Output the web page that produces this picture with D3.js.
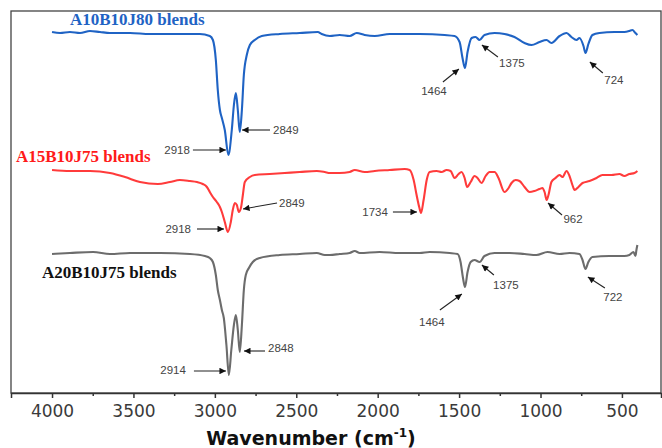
<!DOCTYPE html>
<html>
<head>
<meta charset="utf-8">
<script src="https://cdn.jsdelivr.net/npm/d3@7/dist/d3.min.js"></script>
<style>
  html, body { margin: 0; padding: 0; background: #fff; }
  svg { display: block; }
</style>
</head>
<body>
<svg id="chart" width="662" height="448"></svg>
<script>
// ---------- DATA ----------
const xTicks = [4000, 3500, 3000, 2500, 2000, 1500, 1000, 500];
const xMinorTicks = [3750, 3250, 2750, 2250, 1750, 1250, 750];
const seriesNames = ["A10B10J80 blends", "A15B10J75 blends", "A20B10J75 blends"];

// [wavenumber (cm-1), transmittance (a.u.)]
const a10b10j80 = [
  [4000,36.1],[3951,36.0],[3890,36.1],[3828,36.0],[3767,36.2],[3706,36.1],[3644,36.0],
  [3521,36.0],[3399,35.9],[3276,35.9],[3153,35.9],[3092,35.9],[3031,35.7],[3012,35.3],
  [2994,33.3],[2982,30.3],[2969,28.3],[2957,27.5],[2939,26.3],[2917,23.8],[2896,26.3],
  [2883,28.8],[2871,30.0],[2859,28.3],[2847,26.1],[2834,28.3],[2822,31.8],[2804,33.8],
  [2785,34.8],[2755,35.3],[2712,35.7],[2601,35.9],[2479,36.0],[2368,36.1],[2344,35.9],
  [2294,35.7],[2233,35.8],[2172,35.7],[2129,36.0],[2080,35.8],[2018,35.7],[1926,35.9],
  [1742,35.9],[1589,35.8],[1528,35.7],[1497,35.1],[1479,33.5],[1464,32.5],[1448,34.1],
  [1423,35.5],[1399,35.6],[1374,35.3],[1344,35.8],[1282,36.0],[1221,35.9],[1160,35.6],
  [1098,35.0],[1055,34.8],[1006,35.1],[963,35.3],[933,35.0],[883,35.7],[840,36.0],
  [810,35.6],[779,35.3],[761,35.5],[736,34.7],[724,34.0],[706,34.9],[681,35.8],
  [638,36.0],[546,36.1],[485,36.1],[454,36.2],[436,36.3],[417,36.0],[405,35.8]
];
const a15b10j75 = [
  [4000,22.3],[3890,22.2],[3767,22.2],[3644,22.0],[3552,21.6],[3460,21.1],[3350,20.9],
  [3276,21.1],[3215,21.3],[3153,21.2],[3110,21.1],[3074,20.9],[3049,20.6],[3031,20.1],
  [3012,19.6],[2988,19.1],[2969,18.6],[2957,18.1],[2939,17.1],[2920,16.1],[2902,17.1],
  [2890,18.3],[2877,19.0],[2865,18.8],[2853,18.1],[2840,18.5],[2828,19.8],[2816,21.1],
  [2785,21.6],[2755,21.8],[2663,21.9],[2571,22.0],[2479,22.1],[2374,22.2],[2325,22.1],
  [2294,22.0],[2233,22.0],[2172,22.1],[2141,22.3],[2080,22.1],[2018,22.2],[1926,22.3],
  [1834,22.4],[1804,22.3],[1779,21.3],[1761,19.8],[1745,18.6],[1734,18.0],[1718,19.3],
  [1699,21.3],[1681,22.1],[1638,22.2],[1607,22.1],[1577,22.3],[1552,22.2],[1528,21.5],
  [1503,21.9],[1485,22.1],[1466,21.5],[1451,20.6],[1429,21.1],[1405,21.7],[1387,21.5],
  [1362,21.0],[1337,21.7],[1313,22.1],[1282,22.1],[1258,21.5],[1221,20.1],[1196,20.5],
  [1178,21.0],[1153,21.3],[1129,21.2],[1098,20.6],[1067,20.1],[1037,20.2],[1006,20.4],
  [988,20.5],[975,20.1],[962,19.3],[951,19.8],[933,21.1],[908,21.5],[883,21.8],
  [865,21.6],[840,22.2],[822,21.7],[804,20.8],[791,20.3],[767,20.6],[742,21.0],
  [699,21.2],[656,21.5],[620,21.8],[564,21.8],[515,21.9],[485,21.7],[454,21.9],
  [423,22.0],[405,22.2]
];
const a20b10j75 = [
  [4000,13.9],[3890,14.0],[3748,14.1],[3644,13.9],[3521,14.0],[3337,14.0],[3153,13.9],
  [3061,13.7],[3031,13.5],[3012,13.1],[2994,11.8],[2982,10.3],[2969,9.3],[2957,8.3],
  [2945,7.5],[2929,4.8],[2914,1.8],[2899,4.3],[2883,6.8],[2871,7.8],[2859,6.3],
  [2847,4.1],[2834,6.8],[2822,10.3],[2810,11.8],[2791,12.5],[2767,13.1],[2724,13.5],
  [2601,13.8],[2479,13.9],[2374,14.0],[2325,13.8],[2294,13.8],[2233,13.9],[2172,14.0],
  [2141,14.2],[2110,14.0],[1988,14.1],[1865,14.0],[1742,14.0],[1681,14.1],[1558,14.0],
  [1509,13.9],[1491,13.1],[1476,11.5],[1464,10.6],[1448,12.1],[1429,13.1],[1405,13.3],
  [1374,13.1],[1344,13.7],[1282,14.0],[1190,14.0],[1098,13.9],[1025,13.8],[957,14.1],
  [883,13.9],[822,14.0],[761,13.9],[742,13.3],[724,12.4],[706,13.1],[681,13.6],
  [577,13.7],[485,13.7],[454,13.8],[429,14.1],[417,13.7],[411,14.3],[405,14.8]
];

// peak annotations: label, arrow head at [wavenumber, value]
const peakLabels   = [["2918","2849","1464","1375","724"],["2849","2918","1734","962"],["2914","2848","1464","1375","722"]];
const peakHeadWn   = [[2932,2833,1501,1360,697],[2827,2944,1759,954],[2932,2821,1483,1360,709]];
const peakHeadVal  = [[24.3,26.3,32.4,34.8,33.1],[18.4,16.4,18.1,19.0],[2.2,4.2,9.9,12.8,11.6]];

// ---------- LAYOUT / STYLE ----------
const colors = ["#1f63c4", "#ff3b3b", "#6c6c6c"];
const labelColors = ["#1f63c4", "#ff1a1a", "#111111"];
const labelPos = [[70, 25], [16, 162], [42, 278]];
const arrowTail = [[[-33,0],[28,0],[-16,13],[16,12],[13,11]],[[34,-6],[-27,0],[-24,0],[14,12]],[[-32,0],[21,0],[-22,16],[12,10],[17,11]]];
const textOff   = [[[-3,4,"end"],[3,4,"start"],[-9,13,"middle"],[14,10,"middle"],[11,11,"middle"]],
                   [[2,4,"start"],[-6,4,"end"],[-5,4,"end"],[11,8,"middle"]],
                   [[-8,3,"end"],[3,1,"start"],[-8,16,"middle"],[12,14,"middle"],[8,13,"middle"]]];

const svg = d3.select("#chart");
const L = 11, R = 661, T = 11, B = 393;

const x = d3.scaleLinear().domain([4252, 260]).range([L, R]);
const y = d3.scaleLinear().domain([0, 38.2]).range([B, T]);

// frame
svg.append("rect").attr("x", L).attr("y", T).attr("width", R - L).attr("height", B - T)
  .attr("fill", "none").attr("stroke", "#444").attr("stroke-width", 1.3);

// x axis
const gx = svg.append("g").attr("transform", `translate(0,${B})`)
  .call(d3.axisBottom(x).tickValues(xTicks).tickSize(5).tickPadding(7).tickFormat(d3.format("d")));
gx.select(".domain").attr("stroke", "#333").attr("stroke-width", 1.5);
gx.selectAll(".tick line").attr("stroke", "#333").attr("stroke-width", 1.5);
gx.selectAll(".tick text").attr("font-family", "DejaVu Sans, sans-serif").attr("font-size", 17).attr("fill", "#3a3a3a");

const gxm = svg.append("g").attr("transform", `translate(0,${B})`)
  .call(d3.axisBottom(x).tickValues(xMinorTicks).tickSize(3).tickFormat(""));
gxm.select(".domain").remove();
gxm.selectAll(".tick line").attr("stroke", "#333").attr("stroke-width", 1.5);

// axis title
const title = svg.append("text").attr("x", 311).attr("y", 445).attr("text-anchor", "middle")
  .attr("font-family", "DejaVu Sans, sans-serif").attr("font-weight", "bold").attr("font-size", 19).attr("fill", "#111");
title.append("tspan").text("Wavenumber (cm");
title.append("tspan").text("-1").attr("font-size", 12).attr("dy", -8);
title.append("tspan").text(")").attr("dy", 8);

// arrow marker
svg.append("defs").append("marker").attr("id", "arr")
  .attr("viewBox", "0 0 10 10").attr("refX", 10).attr("refY", 5)
  .attr("markerWidth", 10).attr("markerHeight", 6.5).attr("markerUnits", "userSpaceOnUse")
  .attr("orient", "auto")
  .append("path").attr("d", "M0,0 L10,5 L0,10 Z").attr("fill", "#111");

// spectra
const line = d3.line().x(d => x(d[0])).y(d => y(d[1])).curve(d3.curveMonotoneX);
const allSeries = [a10b10j80, a15b10j75, a20b10j75];
allSeries.forEach((s, i) => {
  svg.append("path").datum(s).attr("d", line).attr("fill", "none")
    .attr("stroke", colors[i]).attr("stroke-width", 2.1).attr("stroke-linejoin", "round");
  svg.append("text").attr("x", labelPos[i][0]).attr("y", labelPos[i][1])
    .attr("font-family", "Liberation Serif, Times New Roman, serif").attr("font-weight", "bold")
    .attr("font-size", 17).attr("fill", labelColors[i]).text(seriesNames[i]);
});

// annotations
peakLabels.forEach((labs, i) => {
  labs.forEach((lab, j) => {
    const hx = x(peakHeadWn[i][j]), hy = y(peakHeadVal[i][j]);
    const tx = hx + arrowTail[i][j][0], ty = hy + arrowTail[i][j][1];
    svg.append("line").attr("x1", tx).attr("y1", ty).attr("x2", hx).attr("y2", hy)
      .attr("stroke", "#222").attr("stroke-width", 1.1).attr("marker-end", "url(#arr)");
    const o = textOff[i][j];
    svg.append("text").attr("x", tx + o[0]).attr("y", ty + o[1]).attr("text-anchor", o[2])
      .attr("font-family", "Liberation Sans, Arial, sans-serif").attr("font-size", 11.5)
      .attr("fill", "#444").text(lab);
  });
});
</script>
</body>
</html>
